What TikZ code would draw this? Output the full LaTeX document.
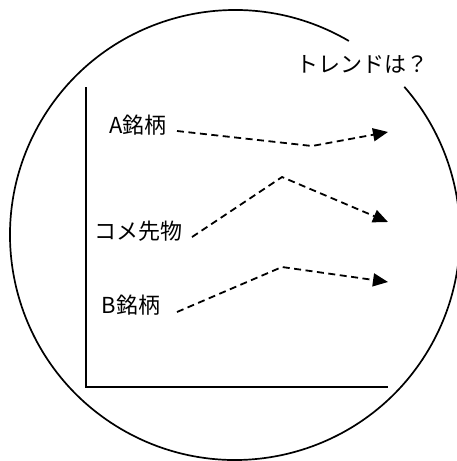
\documentclass[tikz,border=0pt]{standalone}
\usepackage{fontspec}
\setmainfont{Noto Sans CJK JP}
\usetikzlibrary{arrows.meta}
\begin{document}
\begin{tikzpicture}[x=1pt,y=-1pt,
  lbl/.style={inner sep=0pt, font=\fontsize{22}{26}\selectfont},
  trend/.style={line width=1.8pt, dash pattern=on 7pt off 4.5pt, -{Triangle[length=15pt,width=13pt]}},
  axis/.style={line width=2pt},
  ring/.style={line width=1.7pt}]
\useasboundingbox (0,0) rectangle (456,461);
% circle with gap
\coordinate (c) at (235,235);
\draw[ring] (c) ++(59.6:225 and -225) arc[start angle=59.6, end angle=401.2, x radius=225, y radius=-225];
% axes
\coordinate (top) at (86,87);
\coordinate (origin) at (86,387);
\coordinate (right) at (388,387);
\draw[axis] (top) -- (origin) -- (right);
% labels
\node[lbl] (title) at (362,64) {トレンドは？};
\node[lbl] (A) at (138,125) {A銘柄};
\node[lbl] (K) at (138,231) {コメ先物};
\node[lbl] (B) at (131,305) {B銘柄};
% trend lines
\coordinate (a0) at (177,131); \coordinate (a1) at (312,146); \coordinate (a2) at (388,132);
\coordinate (k0) at (192,237); \coordinate (k1) at (282,177); \coordinate (k2) at (388,222);
\coordinate (b0) at (177,312); \coordinate (b1) at (282,267); \coordinate (b2) at (388,282);
\draw[trend] (a0) -- (a1) -- (a2);
\draw[trend] (k0) -- (k1) -- (k2);
\draw[trend] (b0) -- (b1) -- (b2);
\end{tikzpicture}
\end{document}
